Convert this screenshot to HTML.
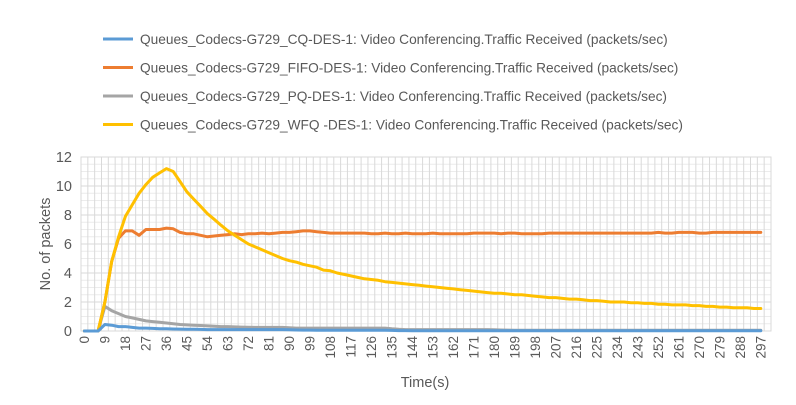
<!DOCTYPE html>
<html><head><meta charset="utf-8">
<style>
html,body{margin:0;padding:0;background:#fff;}
svg{display:block;font-family:"Liberation Sans",sans-serif;}
</style></head>
<body>
<svg id="chart" width="796" height="405"></svg>
<script>
const categories = [];
for (let t = 0; t <= 300; t += 3) categories.push(t);
const yTicks = [0,2,4,6,8,10,12];
const seriesNames = [
 "Queues_Codecs-G729_CQ-DES-1: Video Conferencing.Traffic Received (packets/sec)",
 "Queues_Codecs-G729_FIFO-DES-1: Video Conferencing.Traffic Received (packets/sec)",
 "Queues_Codecs-G729_PQ-DES-1: Video Conferencing.Traffic Received (packets/sec)",
 "Queues_Codecs-G729_WFQ -DES-1: Video Conferencing.Traffic Received (packets/sec)"];
const cqValues = [0,0,0,0.45,0.4,0.3,0.3,0.25,0.2,0.2,0.18,0.15,0.15,0.14,0.13,0.12,0.12,0.11,0.1,0.1,0.1,0.1,0.1,0.1,0.1,0.1,0.1,0.1,0.1,0.1,0.08,0.07,0.06,0.06,0.05,0.05,0.05,0.05,0.05,0.05,0.05,0.05,0.05,0.05,0.05,0.04,0.03,0.03,0.02,0.02,0.02,0.02,0.02,0.02,0.02,0.02,0.02,0.02,0.02,0.02,0.02,0.02,0.02,0.02,0.02,0.02,0.02,0.02,0.02,0.02,0.02,0.02,0.02,0.02,0.02,0.02,0.02,0.02,0.02,0.02,0.02,0.02,0.02,0.02,0.02,0.02,0.02,0.02,0.02,0.02,0.02,0.02,0.02,0.02,0.02,0.02,0.02,0.02,0.02,0.02];
const fifoValues = [0,0,0,2.0,4.8,6.4,6.9,6.9,6.6,7.0,7.0,7.0,7.1,7.05,6.8,6.7,6.7,6.6,6.5,6.55,6.6,6.65,6.7,6.65,6.7,6.7,6.75,6.7,6.75,6.8,6.8,6.85,6.9,6.9,6.85,6.8,6.75,6.75,6.75,6.75,6.75,6.75,6.7,6.7,6.75,6.7,6.7,6.75,6.7,6.7,6.7,6.75,6.7,6.7,6.7,6.7,6.7,6.75,6.75,6.75,6.75,6.7,6.75,6.75,6.7,6.7,6.7,6.7,6.75,6.75,6.75,6.75,6.75,6.75,6.75,6.75,6.75,6.75,6.75,6.75,6.75,6.75,6.75,6.75,6.8,6.75,6.75,6.8,6.8,6.8,6.75,6.75,6.8,6.8,6.8,6.8,6.8,6.8,6.8,6.8];
const pqValues = [0,0,0,1.7,1.4,1.2,1.0,0.9,0.8,0.7,0.65,0.6,0.55,0.5,0.45,0.42,0.4,0.38,0.35,0.33,0.3,0.3,0.28,0.27,0.26,0.25,0.25,0.25,0.25,0.25,0.22,0.2,0.2,0.2,0.2,0.2,0.2,0.2,0.2,0.2,0.2,0.2,0.2,0.2,0.2,0.15,0.12,0.1,0.1,0.1,0.1,0.1,0.1,0.1,0.1,0.1,0.1,0.1,0.1,0.1,0.08,0.07,0.06,0.05,0.05,0.05,0.05,0.05,0.05,0.05,0.05,0.05,0.05,0.05,0.05,0.05,0.05,0.05,0.05,0.05,0.05,0.05,0.05,0.05,0.05,0.05,0.05,0.05,0.05,0.05,0.05,0.05,0.05,0.05,0.05,0.05,0.05,0.05,0.05,0.05];
const wfqValues = [0,0,0,2.0,4.8,6.5,7.9,8.7,9.5,10.1,10.6,10.9,11.2,11.0,10.3,9.6,9.1,8.6,8.1,7.7,7.3,6.9,6.6,6.3,6.0,5.8,5.6,5.4,5.2,5.0,4.85,4.75,4.6,4.5,4.4,4.2,4.15,4.0,3.9,3.8,3.7,3.6,3.55,3.5,3.4,3.35,3.3,3.25,3.2,3.15,3.1,3.05,3.0,2.95,2.9,2.85,2.8,2.75,2.7,2.65,2.6,2.6,2.55,2.5,2.5,2.45,2.4,2.35,2.3,2.3,2.25,2.2,2.2,2.15,2.1,2.1,2.05,2.0,2.0,2.0,1.95,1.95,1.9,1.9,1.85,1.85,1.8,1.8,1.8,1.75,1.75,1.7,1.7,1.65,1.65,1.6,1.6,1.6,1.55,1.55];
const seriesColors = ["#5b9bd5","#ed7d31","#a5a5a5","#ffc000"];

const NS = "http://www.w3.org/2000/svg";
const svg = document.getElementById("chart");
const L = 81, R = 771, T = 157, B = 331;
const bw = (R - L) / categories.length;
const yMax = 12;
function xPos(i){ return L + bw * (i + 0.5); }
function yPos(v){ return B - (v / yMax) * (B - T); }
function mk(tag, attrs){ const e = document.createElementNS(NS, tag); for (const k in attrs) e.setAttribute(k, attrs[k]); svg.appendChild(e); return e; }

for (let v = 0.5; v < yMax; v += 0.5) {
  const g = mk("line",{x1:L,x2:R,y1:yPos(v),y2:yPos(v),stroke:"#ececec","stroke-width":1});
  
  
}
for (let i = 0; i <= categories.length; i++) {
  const x = L + bw * i;
  const g = mk("line",{x1:x,x2:x,y1:T,y2:B,stroke:"#d9d9d9","stroke-width":1});
  
  
}
yTicks.forEach(v => {
  const g = mk("line",{x1:L,x2:R,y1:yPos(v),y2:yPos(v),stroke:"#d9d9d9","stroke-width":1});
  
  
  const t = mk("text",{x:L-9,y:yPos(v)+5,"text-anchor":"end","font-size":"14.5",fill:"#595959"});
  t.textContent = v;
  
  
});
const bx = mk("rect",{x:L,y:T,width:R-L,height:B-T,fill:"none",stroke:"#d9d9d9"});


categories.forEach((c, i) => {
  if (i % 3 !== 0 || i > 99) return;
  const x = xPos(i), y = 336;
  const t = mk("text",{x:x,y:y,transform:`rotate(-90 ${x} ${y})`,"text-anchor":"end","dominant-baseline":"central","font-size":"13.5",fill:"#595959"});
  t.textContent = c;
  
  
});
const allSeries = [cqValues, fifoValues, pqValues, wfqValues];
const drawOrder = [2, 1, 3, 0];
drawOrder.forEach(s => {
  const vals = allSeries[s];
  const pts = vals.map((v, i) => xPos(i).toFixed(1) + "," + yPos(v).toFixed(1)).join(" ");
  const p = mk("polyline",{points:pts,fill:"none",stroke:seriesColors[s],"stroke-width":3,"stroke-linejoin":"round","stroke-linecap":"round"});
  
  
});
seriesNames.forEach((n, i) => {
  const y = 39 + i * 28.5;
  const l = mk("line",{x1:103,x2:133,y1:y,y2:y,stroke:seriesColors[i],"stroke-width":3});
  
  
  const t = mk("text",{x:140,y:y+5,"font-size":"13.7",fill:"#595959",textLength:(i===1?532:(i===3?580-0:520)) });
  t.removeAttribute("textLength");
  t.textContent = n;
  
  
});
const yt = mk("text",{x:50,y:244,transform:"rotate(-90 50 244)","text-anchor":"middle","font-size":"14.5",fill:"#595959"});
yt.textContent = "No. of packets";


const xt = mk("text",{x:425,y:387,"text-anchor":"middle","font-size":"14.5",fill:"#595959"});
xt.textContent = "Time(s)";


</script>
</body></html>
